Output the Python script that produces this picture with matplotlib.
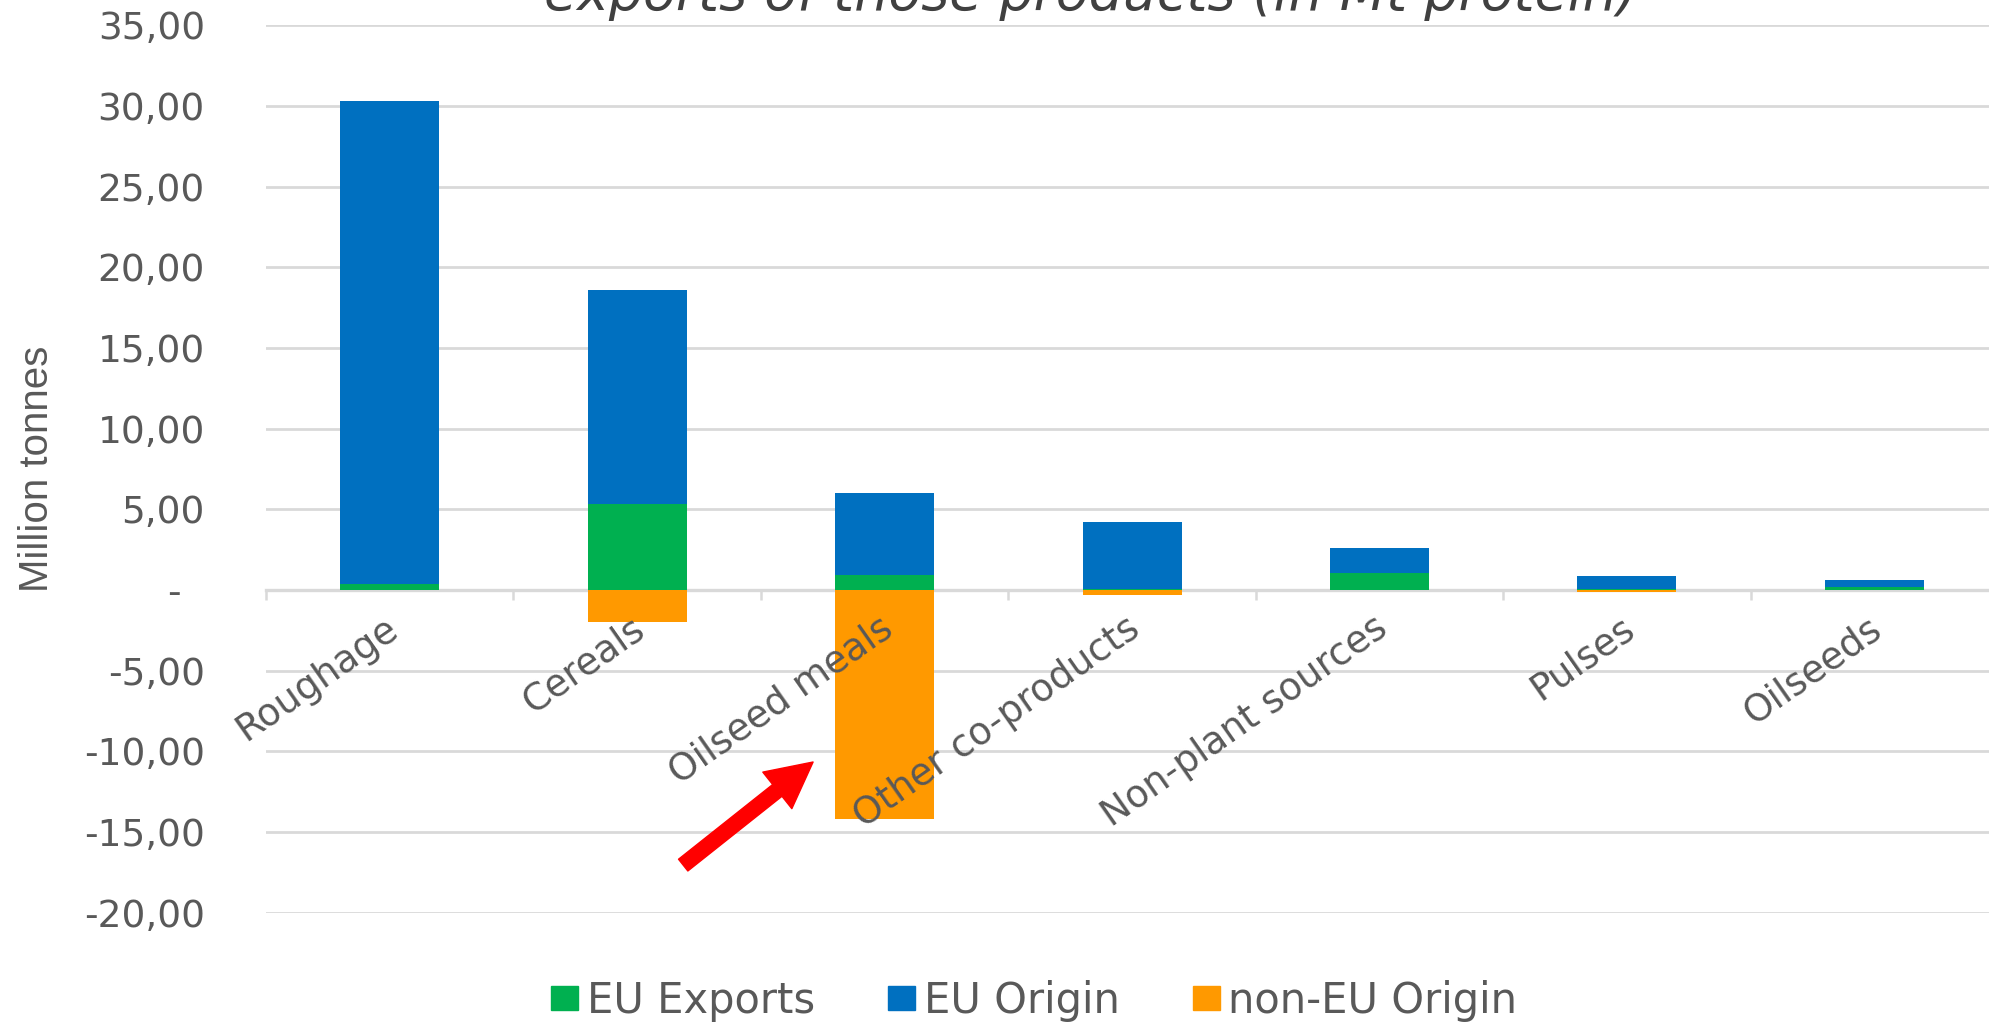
import matplotlib
matplotlib.use("Agg")
import matplotlib.pyplot as plt
from matplotlib.patches import Patch
from matplotlib.transforms import ScaledTranslation
import numpy as np

categories = ["Roughage", "Cereals", "Oilseed meals", "Other co-products",
              "Non-plant sources", "Pulses", "Oilseeds"]
eu_exports = [0.40, 5.33, 0.93, 0.05, 1.04, 0.05, 0.17]
eu_origin = [29.89, 13.24, 5.10, 4.18, 1.54, 0.82, 0.45]
non_eu_origin = [0.0, -2.00, -14.20, -0.30, 0.0, -0.12, 0.0]

y_ticks = [-20, -15, -10, -5, 0, 5, 10, 15, 20, 25, 30, 35]
title_text = "exports of those products (in Mt protein)"
y_label = "Million tonnes"
legend_labels = ["EU Exports", "EU Origin", "non-EU Origin"]
arrow_from = (1.186, -17.05)
arrow_to = (1.711, -10.66)

C_GREEN = "#00B050"
C_BLUE = "#0070C0"
C_ORANGE = "#FF9900"
C_TEXT = "#595959"
C_GRID = "#D9D9D9"

plt.rcParams["font.family"] = ["DejaVu Sans"]

fig = plt.figure(figsize=(19.9, 10.22), dpi=100)
ax = fig.add_axes([0.13367, 0.10695, 0.8704, 0.86829])

x = np.arange(len(categories))
w = 0.4
ax.bar(x, eu_exports, w, color=C_GREEN, zorder=3)
ax.bar(x, eu_origin, w, bottom=eu_exports, color=C_BLUE, zorder=3)
ax.bar(x, non_eu_origin, w, color=C_ORANGE, zorder=3)

ax.set_xlim(-0.5, len(categories) - 0.5)
ax.set_ylim(-20, 35)
ax.set_yticks(y_ticks)
ax.set_yticklabels([("-  " if v == 0 else f"{v:.2f}".replace(".", ",")) for v in y_ticks],
                   fontsize=27, color=C_TEXT)
ax.tick_params(axis="y", length=0, pad=44)
ax.yaxis.grid(True, color=C_GRID, linewidth=2.0, zorder=0)
ax.set_axisbelow(True)

for s in ["left", "right", "top"]:
    ax.spines[s].set_visible(False)
ax.spines["bottom"].set_position(("data", 0))
ax.spines["bottom"].set_color(C_GRID)
ax.spines["bottom"].set_linewidth(2.4)
ax.spines["bottom"].set_zorder(2)

ax.set_xticks(x)
ax.set_xticklabels([])
ax.tick_params(axis="x", which="major", length=0)
ax.set_xticks(np.arange(len(categories) + 1) - 0.5, minor=True)
ax.tick_params(axis="x", which="minor", length=7.2, width=1.8, color=C_GRID, direction="out")

off = ScaledTranslation(-0.06, -0.20, fig.dpi_scale_trans)
for i, lab in enumerate(categories):
    ax.text(i, 0, lab, transform=ax.transData + off, rotation=35,
            rotation_mode="anchor", ha="right", va="top", fontsize=27,
            color=C_TEXT, zorder=5)

ax.set_ylabel(y_label, fontsize=29, color=C_TEXT, va="center",
              fontfamily=["Liberation Sans", "DejaVu Sans"])
ax.yaxis.set_label_coords(-0.132, 0.5)

ax.annotate("", xy=arrow_to, xytext=arrow_from,
            arrowprops=dict(arrowstyle="simple,head_length=1.37,head_width=1.4,tail_width=0.45",
                            mutation_scale=24, color="#FF0000", shrinkA=0, shrinkB=0),
            zorder=6)

fig.text(0.548, 1 - 10 / 1022, title_text, ha="center", va="baseline",
         fontsize=38.7, style="italic", color="#404040")

handles = [Patch(color=C_GREEN), Patch(color=C_BLUE), Patch(color=C_ORANGE)]
fig.legend(handles, legend_labels, loc="center", bbox_to_anchor=(0.5197, 1 - 1001 / 1022),
           ncol=3, frameon=False, fontsize=30, labelcolor=C_TEXT,
           handlelength=0.65, handleheight=0.52, handletextpad=0.21, columnspacing=1.75,
           borderpad=0, borderaxespad=0)

fig.savefig("out.png", dpi=100)
